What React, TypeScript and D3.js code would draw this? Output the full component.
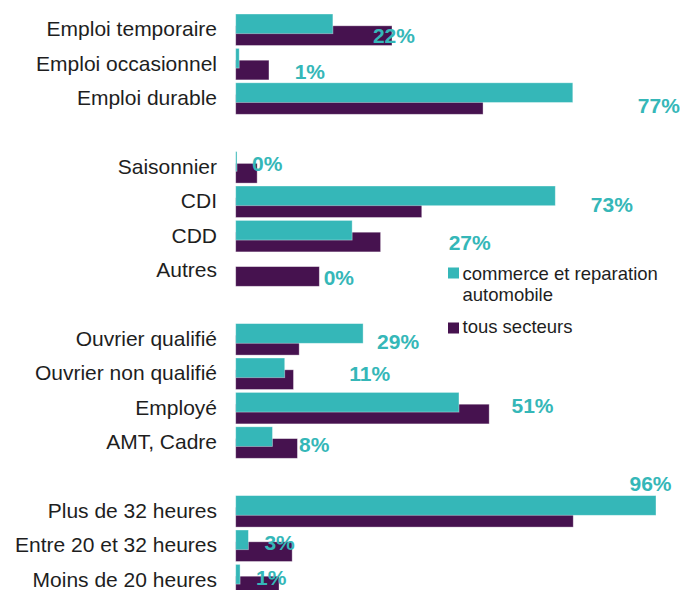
import React, { useEffect, useRef } from 'react';
import * as d3 from 'd3';

// categories, blank entries are the gaps between the four blocks
const categories = [
  'Emploi temporaire', 'Emploi occasionnel', 'Emploi durable', '',
  'Saisonnier', 'CDI', 'CDD', 'Autres', '',
  'Ouvrier qualifié', 'Ouvrier non qualifié', 'Employé', 'AMT, Cadre', '',
  'Plus de 32 heures', 'Entre 20 et 32 heures', 'Moins de 20 heures',
];

const commerce = [
  0.222, 0.008, 0.77, null,
  0.003, 0.73, 0.266, 0, null,
  0.291, 0.112, 0.51, 0.084, null,
  0.96, 0.029, 0.01,
];

const tousSecteurs = [
  0.357, 0.076, 0.565, null,
  0.049, 0.425, 0.331, 0.191, null,
  0.145, 0.132, 0.579, 0.141, null,
  0.771, 0.129, 0.099,
];

const seriesNames = ['commerce et reparation automobile', 'tous secteurs'];

// hand-placed data labels in the source: [dx from bar end, dy from bar top]
const labelNudge = [
  [40, 28.5], [55.5, 30.5], [65, 30], null,
  [15, 19.5], [35.5, 25.5], [96.5, 29.5], [88, 30], null,
  [14, 25.5], [64.5, 22.5], [52.5, 21], [26.5, 25], null,
  [-26.5, -5], [16, 20], [16, 20.5],
];

const TEAL = '#35b7b8';
const PURPLE = '#46124f';
const FONT = '"Liberation Sans", Arial, sans-serif';

const BarChart = ({ width = 681, height = 590 }) => {
  const svgRef = useRef(null);

  useEffect(() => {
    const svg = d3.select(svgRef.current)
      .attr('width', width)
      .attr('height', height);
    svg.selectAll('*').remove();

    const idx = categories.map((_, i) => i);
    const y = d3.scaleBand().domain(idx).range([14, 14 + 34.4 * categories.length]);
    const x = d3.scaleLinear().domain([0, 1]).range([235.7, 673.5]);
    const fmt = d3.format('.0%');

    const barH = 19.7;
    const shift = 11.8;

    const rows = idx.filter(i => commerce[i] !== null);

    // tous secteurs first, commerce drawn over it
    svg.append('g').selectAll('rect')
      .data(rows)
      .enter()
      .append('rect')
      .attr('x', x(0))
      .attr('y', i => y(i) + shift)
      .attr('width', i => x(tousSecteurs[i]) - x(0))
      .attr('height', barH)
      .attr('fill', PURPLE)
      .attr('stroke', '#ffffff')
      .attr('stroke-opacity', 0.45)
      .attr('stroke-width', 0.8);

    svg.append('g').selectAll('rect')
      .data(rows.filter(i => commerce[i] > 0))
      .enter()
      .append('rect')
      .attr('x', x(0))
      .attr('y', i => y(i))
      .attr('width', i => Math.max(1, x(commerce[i]) - x(0)))
      .attr('height', barH)
      .attr('fill', TEAL)
      .attr('stroke', '#ffffff')
      .attr('stroke-opacity', 0.45)
      .attr('stroke-width', 0.8);

    // category labels
    svg.append('g').selectAll('text')
      .data(rows)
      .enter()
      .append('text')
      .attr('x', 217)
      .attr('y', i => y(i) + (shift + barH) / 2)
      .attr('dy', '0.32em')
      .attr('text-anchor', 'end')
      .style('font-family', FONT)
      .style('font-size', '21px')
      .style('fill', '#1e1e1e')
      .text(i => categories[i]);

    // value labels
    svg.append('g').selectAll('text')
      .data(rows)
      .enter()
      .append('text')
      .attr('x', i => x(commerce[i]) + labelNudge[i][0])
      .attr('y', i => y(i) + labelNudge[i][1])
      .style('font-family', FONT)
      .style('font-size', '21px')
      .style('font-weight', 'bold')
      .style('fill', TEAL)
      .text(i => fmt(commerce[i]));

    // legend
    const legend = svg.append('g').attr('transform', 'translate(448, 267.5)');
    legend.append('rect').attr('width', 11).attr('height', 11).attr('fill', TEAL);
    legend.append('text')
      .attr('x', 14.5)
      .attr('y', 12.5)
      .style('font-family', FONT)
      .style('font-size', '18.5px')
      .style('fill', '#1e1e1e')
      .selectAll('tspan')
      .data(['commerce et reparation', 'automobile'])
      .enter()
      .append('tspan')
      .attr('x', 14.5)
      .attr('dy', (d, i) => (i === 0 ? 0 : 20.7))
      .text(d => d);

    legend.append('rect').attr('y', 55).attr('width', 11).attr('height', 11).attr('fill', PURPLE);
    legend.append('text')
      .attr('x', 14.5)
      .attr('y', 65.8)
      .style('font-family', FONT)
      .style('font-size', '18.5px')
      .style('fill', '#1e1e1e')
      .text(seriesNames[1]);
  }, [width, height]);

  return (
    <svg
      ref={svgRef}
      style={{ position: 'absolute', left: 0, top: 0, display: 'block', background: '#fff' }}
    ></svg>
  );
};

export default function App() {
  return <BarChart />;
}
